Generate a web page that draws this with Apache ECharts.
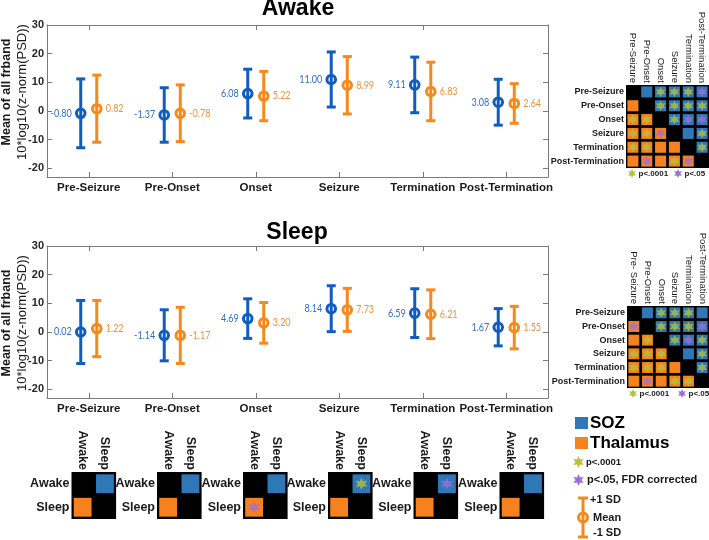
<!DOCTYPE html>
<html><head><meta charset="utf-8">
<script src="https://cdn.jsdelivr.net/npm/echarts@6/dist/echarts.min.js"></script>
<style>html,body{margin:0;padding:0;background:#fff}#c{width:709px;height:540px}</style>
</head><body><div id="c"></div><script>
// ---------------- DATA ----------------
const phases = ['Pre-Seizure','Pre-Onset','Onset','Seizure','Termination','Post-Termination'];
const awakeSozMean  = [-0.80, -1.37, 6.08, 11.00, 9.11, 3.08];
const awakeSozSD    = [12.0, 9.5, 8.5, 9.6, 9.7, 8.0];
const awakeThalMean = [0.82, -0.78, 5.22, 8.99, 6.83, 2.64];
const awakeThalSD   = [11.7, 9.9, 8.6, 10.0, 10.2, 6.9];
const sleepSozMean  = [0.02, -1.14, 4.69, 8.14, 6.59, 1.67];
const sleepSozSD    = [11.0, 8.9, 6.9, 8.0, 8.5, 6.5];
const sleepThalMean = [1.22, -1.17, 3.20, 7.73, 6.21, 1.55];
const sleepThalSD   = [9.8, 9.8, 7.1, 7.5, 8.5, 7.4];
const yTickLabels = [-20, -10, 0, 10, 20, 30];
const yMin = -23, yMax = 30;

// pairwise phase comparisons: upper triangle = SOZ, lower = Thalamus
// 'y' = p<.0001, 'p' = p<.05, '.' = n.s., 'x' = diagonal
const awakeSig = ['x.yyyp', '.xyyyy', 'yyxypp', 'yypx.y', 'yy..xy', '.p.ypx'];
const sleepSig = ['x.yyy.', 'pxyyyp', '.yxypy', 'yyyx.y', 'yyy.xy', '.p.yyx'];
const awakeMatrixCols = ['Pre-Seizure','Pre-Onset','Onset','Seizure','Termination','Post-Termination'];
const sleepMatrixCols = ['Pre- Seizure','Pre-Onset','Onset','Seizure','Termination','Post-Termination'];

// Awake vs Sleep comparison per phase (SOZ cell = upper right, Thalamus = lower left)
const states = ['Awake', 'Sleep'];
const stateSozSig  = ['.', '.', '.', 'y', 'p', '.'];
const stateThalSig = ['.', '.', 'p', '.', '.', '.'];

// ---------------- STYLE ----------------
const FONT = '"Liberation Sans", Arial, sans-serif';
const BLUE = '#105dc0', ORANGE = '#f5891b';
const BLUE_T = '#2f70c8', ORANGE_T = '#f2923a';
const CELL_BLUE = '#2f78b8', CELL_ORANGE = '#f5821f';
const STAR_Y = '#b7c13a', STAR_P = '#9c6fd8';
const AX = '#7a7a7a', TXT = '#1a1a1a';

function starPts(cx, cy, r) {
  const pts = [];
  for (let k = 0; k < 12; k++) {
    const rr = k % 2 ? r * 0.5 : r;
    const a = Math.PI * k / 6 - Math.PI / 2;
    pts.push([cx + rr * Math.cos(a), cy + rr * Math.sin(a)]);
  }
  return pts;
}
const STAR_SYMBOL = 'path://' + starPts(50, 50, 50).map((p, i) => (i ? 'L' : 'M') + p[0].toFixed(2) + ' ' + p[1].toFixed(2)).join('') + 'Z';

// ---------------- LAYOUT ----------------
const grids = [
  {left: 47, top: 25, width: 501, height: 152},
  {left: 47, top: 246, width: 501, height: 152},
  {left: 626, top: 85, width: 83, height: 83, show: true, backgroundColor: '#000', borderWidth: 0},
  {left: 627, top: 306, width: 82, height: 82, show: true, backgroundColor: '#000', borderWidth: 0}
];
const smallLeft = [71.5, 157, 243, 328, 413.5, 499.5];
smallLeft.forEach(l => grids.push({left: l, top: 472, width: 44.6, height: 47, show: true, backgroundColor: '#000', borderWidth: 0}));
grids.forEach(g => { g.containLabel = false; g.outerBoundsMode = 'none'; });

const xAxes = [], yAxes = [], series = [];

function addPlot(g, sozMean, sozSD, thalMean, thalSD) {
  const xi = xAxes.length, yi = yAxes.length;
  xAxes.push({gridIndex: g, type: 'category', data: phases, position: 'bottom',
    axisLine: {show: true, onZero: false, lineStyle: {color: AX, width: 1}},
    axisTick: {show: true, inside: true, alignWithLabel: true, length: 5, lineStyle: {color: AX}},
    axisLabel: {interval: 0, margin: 5, fontSize: 11.5, fontWeight: 'bold', color: TXT, fontFamily: FONT},
    splitLine: {show: false}});
  xAxes.push({gridIndex: g, type: 'category', data: phases, position: 'top',
    axisLine: {show: true, onZero: false, lineStyle: {color: AX, width: 1}},
    axisTick: {show: true, inside: true, alignWithLabel: true, length: 5, lineStyle: {color: AX}},
    axisLabel: {show: false}, splitLine: {show: false}});
  const yBase = {gridIndex: g, type: 'value', min: yMin, max: yMax, splitNumber: 5,
    axisLine: {show: true, onZero: false, lineStyle: {color: AX, width: 1}},
    axisTick: {show: true, inside: true, length: 5, lineStyle: {color: AX}},
    splitLine: {show: false}};
  yAxes.push(Object.assign({}, yBase, {position: 'left',
    axisLabel: {margin: 3, fontSize: 11, fontWeight: 'bold', color: '#262626', fontFamily: FONT, showMinLabel: false,
      formatter: v => (yTickLabels.indexOf(v) >= 0 ? String(v) : '')}}));
  yAxes.push(Object.assign({}, yBase, {position: 'right', axisLabel: {show: false}}));

  function bar(color, labelColor, sign) {
    return function (params, api) {
      const i = api.value(0), m = api.value(1), sd = api.value(2);
      const bw = api.size([1, 0])[0];
      const c = api.coord([i, m]), t = api.coord([i, m + sd]), b = api.coord([i, m - sd]);
      const x = c[0] + sign * bw * 0.096, cap = 4.5;
      const st = {stroke: color, lineWidth: 3, fill: 'none'};
      return {type: 'group', children: [
        {type: 'line', shape: {x1: x, y1: t[1], x2: x, y2: b[1]}, style: st},
        {type: 'line', shape: {x1: x - cap, y1: t[1], x2: x + cap, y2: t[1]}, style: st},
        {type: 'line', shape: {x1: x - cap, y1: b[1], x2: x + cap, y2: b[1]}, style: st},
        {type: 'circle', shape: {cx: x, cy: c[1], r: 4.3}, style: {stroke: color, lineWidth: 3, fill: 'none'}},
        {type: 'text', x: x + sign * 9, y: c[1], scaleX: 0.86, style: {text: m.toFixed(2), fill: labelColor,
          font: '10.5px Lato, "Liberation Sans", sans-serif', align: sign < 0 ? 'right' : 'left', verticalAlign: 'middle'}}
      ]};
    };
  }
  series.push({type: 'custom', xAxisIndex: xi, yAxisIndex: yi, clip: false,
    renderItem: bar(BLUE, BLUE_T, -1), data: sozMean.map((m, i) => [i, m, sozSD[i]])});
  series.push({type: 'custom', xAxisIndex: xi, yAxisIndex: yi, clip: false,
    renderItem: bar(ORANGE, ORANGE_T, 1), data: thalMean.map((m, i) => [i, m, thalSD[i]])});
}

function addMatrix(g, rows, cols, sig, colFont, rowFont, colWeight, starSize) {
  const xi = xAxes.length, yi = yAxes.length;
  xAxes.push({gridIndex: g, type: 'category', data: cols, position: 'top',
    axisLine: {show: false}, axisTick: {show: false}, splitLine: {show: false},
    axisLabel: {interval: 0, rotate: 90, margin: 2, fontSize: colFont, fontWeight: colWeight, color: TXT, fontFamily: FONT}});
  yAxes.push({gridIndex: g, type: 'category', data: rows, inverse: true,
    axisLine: {show: false}, axisTick: {show: false}, splitLine: {show: false},
    axisLabel: {interval: 0, margin: 2, fontSize: rowFont, fontWeight: 'bold', color: TXT, fontFamily: FONT}});
  const cells = [], ys = [], ps = [];
  for (let r = 0; r < rows.length; r++) for (let c = 0; c < cols.length; c++) {
    const s = sig[r][c];
    if (s === 'x') continue;
    cells.push([c, r, c > r ? 0 : 1]);
    if (s === 'y') ys.push([c, r]);
    if (s === 'p') ps.push([c, r]);
  }
  series.push({type: 'custom', xAxisIndex: xi, yAxisIndex: yi, clip: false, data: cells,
    renderItem: function (params, api) {
      const p = api.coord([api.value(0), api.value(1)]);
      const s = api.size([1, 1]);
      const w = s[0] * 0.8, h = s[1] * 0.8;
      return {type: 'rect', shape: {x: p[0] - w / 2, y: p[1] - h / 2, width: w, height: h},
        style: {fill: api.value(2) === 0 ? CELL_BLUE : CELL_ORANGE}};
    }});
  series.push({type: 'scatter', xAxisIndex: xi, yAxisIndex: yi, data: ys, symbol: STAR_SYMBOL,
    symbolSize: starSize, itemStyle: {color: STAR_Y}, silent: true});
  series.push({type: 'scatter', xAxisIndex: xi, yAxisIndex: yi, data: ps, symbol: STAR_SYMBOL,
    symbolSize: starSize, itemStyle: {color: STAR_P}, silent: true});
}

addPlot(0, awakeSozMean, awakeSozSD, awakeThalMean, awakeThalSD);
addPlot(1, sleepSozMean, sleepSozSD, sleepThalMean, sleepThalSD);
addMatrix(2, phases, awakeMatrixCols, awakeSig, 9.5, 9, 'normal', 10);
addMatrix(3, phases, sleepMatrixCols, sleepSig, 9.5, 9, 'normal', 10);
for (let k = 0; k < phases.length; k++) {
  const sig = [
    'x' + stateSozSig[k],
    stateThalSig[k] + 'x'
  ];
  addMatrix(4 + k, states, states, sig, 12.5, 12.5, 'bold', 12);
}

// ---------------- GRAPHICS (titles, axis names, legends) ----------------
function txt(x, y, text, font, fill, align, extra) {
  return Object.assign({type: 'text', x: x, y: y, silent: true,
    style: {text: text, font: font, fill: fill || TXT, align: align || 'left', verticalAlign: 'middle',
      textAlign: align || 'left', textVerticalAlign: 'middle'}}, extra || {});
}
function star(cx, cy, r, color) {
  return {type: 'polygon', silent: true, shape: {points: starPts(cx, cy, r)}, style: {fill: color}};
}
const graphics = [
  txt(298, 9, 'Awake', 'bold 23px ' + FONT, '#000', 'center'),
  txt(297, 233, 'Sleep', 'bold 23px ' + FONT, '#000', 'center'),
  txt(7, 92, 'Mean of all frband', 'bold 12.5px ' + FONT, TXT, 'center', {rotation: Math.PI / 2}),
  txt(22, 92, '10*log10(z-norm(PSD))', '13px ' + FONT, TXT, 'center', {rotation: Math.PI / 2}),
  txt(7, 323, 'Mean of all frband', 'bold 12.5px ' + FONT, TXT, 'center', {rotation: Math.PI / 2}),
  txt(22, 323, '10*log10(z-norm(PSD))', '13px ' + FONT, TXT, 'center', {rotation: Math.PI / 2}),
  // matrix footers
  star(632, 173.5, 4.5, STAR_Y), txt(638.5, 173.5, 'p<.0001', 'bold 8px ' + FONT),
  star(678, 173.5, 4.5, STAR_P), txt(684.5, 173.5, 'p<.05', 'bold 8px ' + FONT),
  star(633, 393.5, 4.5, STAR_Y), txt(639.5, 393.5, 'p<.0001', 'bold 8px ' + FONT),
  star(682, 393.5, 4.5, STAR_P), txt(688.5, 393.5, 'p<.05', 'bold 8px ' + FONT),
  // main legend
  {type: 'rect', silent: true, shape: {x: 575, y: 417, width: 13, height: 12}, style: {fill: CELL_BLUE}},
  txt(590, 423.5, 'SOZ', 'bold 17px ' + FONT, '#000'),
  {type: 'rect', silent: true, shape: {x: 575, y: 437, width: 13, height: 12}, style: {fill: CELL_ORANGE}},
  txt(590, 443.5, 'Thalamus', 'bold 17px ' + FONT, '#000'),
  star(578.5, 462, 6, STAR_Y), txt(586, 462, 'p<.0001', 'bold 9.5px ' + FONT),
  star(578.5, 480, 6, STAR_P), txt(587, 480, 'p<.05, FDR corrected', 'bold 11px ' + FONT),
  {type: 'line', silent: true, shape: {x1: 583, y1: 498, x2: 583, y2: 537}, style: {stroke: ORANGE, lineWidth: 3}},
  {type: 'line', silent: true, shape: {x1: 578, y1: 498, x2: 588, y2: 498}, style: {stroke: ORANGE, lineWidth: 3}},
  {type: 'line', silent: true, shape: {x1: 578, y1: 537, x2: 588, y2: 537}, style: {stroke: ORANGE, lineWidth: 3}},
  {type: 'circle', silent: true, shape: {cx: 583, cy: 517.5, r: 4.5}, style: {stroke: ORANGE, lineWidth: 3, fill: 'none'}},
  txt(590, 500, '+1 SD', 'bold 11px ' + FONT),
  txt(593, 517.5, 'Mean', 'bold 11px ' + FONT),
  txt(593, 533, '-1 SD', 'bold 11px ' + FONT)
];

const chart = echarts.init(document.getElementById('c'), null, {renderer: 'canvas'});
chart.setOption({
  animation: false,
  backgroundColor: '#fff',
  textStyle: {fontFamily: FONT},
  grid: grids,
  xAxis: xAxes,
  yAxis: yAxes,
  series: series,
  graphic: graphics
});
</script></body></html>
